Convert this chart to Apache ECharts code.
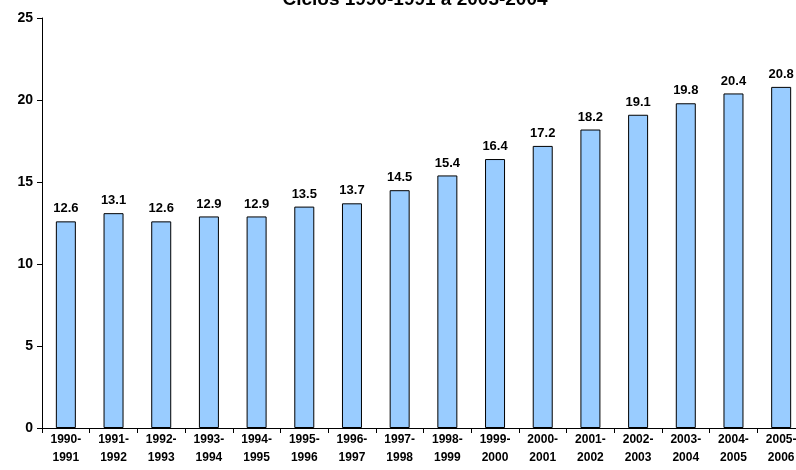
<!DOCTYPE html>
<html>
<head>
<meta charset="utf-8">
<script src="https://cdn.jsdelivr.net/npm/echarts@6/dist/echarts.min.js"></script>
<style>
  html, body { margin: 0; padding: 0; background: #fff; overflow: hidden; }
  #chart { width: 805px; height: 470px; }
</style>
</head>
<body>
<div id="chart"></div>
<script>
var ciclos = ['1990-\n1991', '1991-\n1992', '1992-\n1993', '1993-\n1994', '1994-\n1995', '1995-\n1996',
  '1996-\n1997', '1997-\n1998', '1998-\n1999', '1999-\n2000', '2000-\n2001', '2001-\n2002',
  '2002-\n2003', '2003-\n2004', '2004-\n2005', '2005-\n2006']
var valores = [12.6, 13.1, 12.6, 12.9, 12.9, 13.5, 13.7, 14.5, 15.4, 16.4, 17.2, 18.2, 19.1, 19.8, 20.4, 20.8]
var titulo = 'Ciclos 1990-1991 a 2003-2004'

// el área del gráfico sigue más allá del borde derecho, como en el original
var myChart = echarts.init(document.getElementById('chart'))
myChart.setOption({
  animation: false,
  textStyle: { fontFamily: 'Liberation Sans, Arial, sans-serif' },
  title: {
    text: titulo,
    left: 410,
    top: -15,
    textAlign: 'center',
    textStyle: { fontSize: 19, fontWeight: 'bold', color: '#000' }
  },
  grid: {
    left: 42,
    top: 18,
    right: 0,
    bottom: 42,
    containLabel: false
  },
  xAxis: {
    type: 'category',
    data: ciclos,
    axisLine: { lineStyle: { color: '#000', width: 1 } },
    axisTick: { show: true, length: 5, lineStyle: { color: '#000' } },
    axisLabel: {
      interval: 0,
      color: '#000',
      fontWeight: 'bold',
      fontSize: 12,
      lineHeight: 18,
      margin: 3
    }
  },
  yAxis: {
    type: 'value',
    min: 0,
    max: 25,
    interval: 5,
    axisLine: { show: true, lineStyle: { color: '#000', width: 1 } },
    axisTick: { show: true, length: 5, lineStyle: { color: '#000' } },
    splitLine: { show: false },
    axisLabel: { color: '#000', fontWeight: 'bold', fontSize: 14, margin: 9 }
  },
  series: [
    {
      type: 'bar',
      data: valores,
      barWidth: 20,
      itemStyle: { color: '#99ccff', borderColor: '#000', borderWidth: 1 },
      label: {
        show: true,
        position: 'top',
        distance: 6,
        color: '#000',
        fontWeight: 'bold',
        fontSize: 13,
        formatter: function (p) { return p.value.toFixed(1) }
      }
    }
  ]
})
</script>
</body>
</html>
